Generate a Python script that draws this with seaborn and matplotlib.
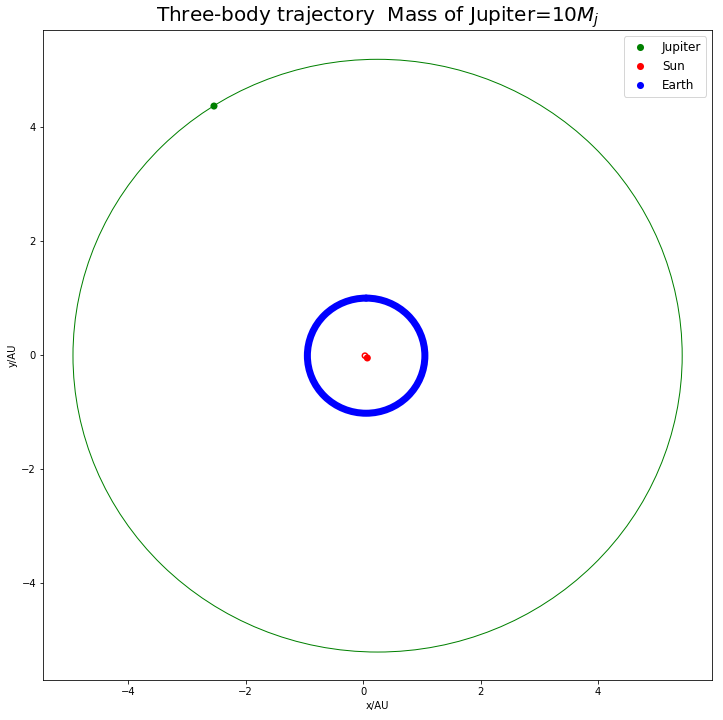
import matplotlib
matplotlib.use("Agg")
import matplotlib.pyplot as plt
from matplotlib.patches import Ellipse
import pandas as pd
import seaborn as sns

# orbit extents (AU): centre x, centre y, width, height
jupiter_orbit = [0.245, -0.01, 10.37, 10.40]
earth_orbit = [0.05, -0.01, 2.0, 2.02]
sun_orbit = [0.03, -0.01, 0.09, 0.09]

# final positions of the bodies
bodies = ["Jupiter", "Sun", "Earth"]
pos_x = [-2.54, 0.07, 0.05]
pos_y = [4.37, -0.05, 1.0]
colors = ["green", "red", "blue"]

sns.set_style("ticks")
plt.rcParams.update({
    "font.family": ["DejaVu Sans"],
    "axes.spines.top": True, "axes.spines.right": True,
    "text.color": "black", "axes.labelcolor": "black",
    "xtick.color": "black", "ytick.color": "black",
    "axes.edgecolor": "black",
})

fig, ax = plt.subplots(figsize=(723 / 72, 720 / 72), dpi=72)
fig.subplots_adjust(left=0.0595, right=0.985, top=0.958, bottom=0.0556)

for (cx, cy, w, h), col, lw in [(jupiter_orbit, "green", 1.0),
                                (earth_orbit, "blue", 7.0),
                                (sun_orbit, "red", 1.5)]:
    ax.add_patch(Ellipse((cx, cy), w, h, fill=False, edgecolor=col, lw=lw))

df = pd.DataFrame({"body": bodies, "x": pos_x, "y": pos_y})
sns.scatterplot(data=df, x="x", y="y", hue="body", palette=colors,
                s=50, edgecolor="none", ax=ax, zorder=3)

ax.set_xlim(-5.45, 5.94)
ax.set_ylim(-5.70, 5.70)
ax.set_xticks([-4, -2, 0, 2, 4])
ax.set_yticks([-4, -2, 0, 2, 4])
ax.tick_params(labelsize=10, direction="out", length=3.5, width=0.8)
for s in ax.spines.values():
    s.set_linewidth(0.8)
ax.set_xlabel("x/AU", fontsize=10)
ax.set_ylabel("y/AU", fontsize=10)
ax.set_title("Three-body trajectory  Mass of Jupiter=10$M_j$", fontsize=20)
ax.legend(loc="upper right", fontsize=12, title=None)

fig.savefig("out.png", dpi=72)
